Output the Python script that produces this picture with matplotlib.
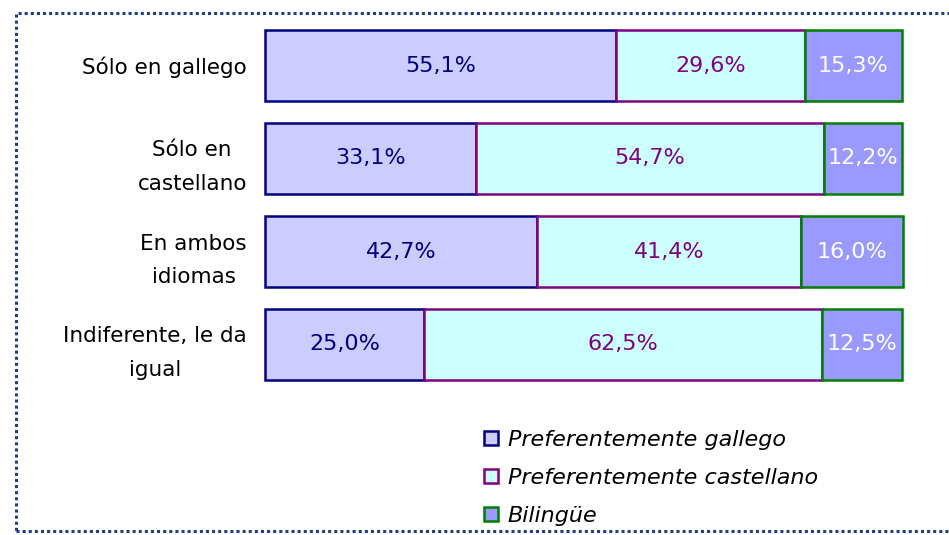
import numpy as np
import matplotlib.pyplot as plt
from matplotlib.patches import Rectangle

# datos
categorias = ['Sólo en gallego', 'Sólo en\ncastellano', 'En ambos\nidiomas', 'Indiferente, le da\nigual']
gallego = [55.1, 33.1, 42.7, 25.0]
castellano = [29.6, 54.7, 41.4, 62.5]
bilingue = [15.3, 12.2, 16.0, 12.5]
series_nombres = ['Preferentemente gallego', 'Preferentemente castellano', 'Bilingüe']

rellenos = ['#CCCCFF', '#CCFFFF', '#9999FF']
bordes = ['#000080', '#800080', '#008000']
colores_texto = ['#000080', '#800080', '#FFFFFF']

fig = plt.figure(figsize=(9.49, 5.35), dpi=100)
ax = fig.add_axes([265/949, 1 - 391/535, 637/949, 372/535])

y = np.arange(len(categorias))
izq = np.zeros(len(categorias))
for vals, fc, ec, tc, nombre in zip([gallego, castellano, bilingue], rellenos, bordes, colores_texto, series_nombres):
    vals = np.array(vals)
    barras = ax.barh(y, vals, left=izq, height=0.76, color=fc, edgecolor=ec, linewidth=1.8, label=nombre)
    for b in barras:
        b.set_clip_on(False)
    for yi, l, v in zip(y, izq, vals):
        ax.text(l + v / 2, yi, f'{v:.1f}'.replace('.', ',') + '%', ha='center', va='center',
                color=tc, fontsize=16)
    izq = izq + vals

ax.set_xlim(0, 100)
ax.set_ylim(len(categorias) - 0.5, -0.5)
ax.set_yticks(y)
ax.set_yticklabels(categorias, fontsize=15.5, linespacing=1.85)
for t in ax.get_yticklabels():
    t.set_multialignment('center')
ax.tick_params(axis='y', length=0, pad=13)
ax.set_xticks([])
for s in ax.spines.values():
    s.set_visible(False)

leg = fig.legend(loc='upper left', bbox_to_anchor=(464/949, 1 - 410/535), frameon=False,
                 prop={'style': 'italic', 'size': 16}, handlelength=0.62, handleheight=0.62,
                 handletextpad=0.45, labelspacing=0.8)

# marco punteado
fig.patches.append(Rectangle((16/949, 1 - 531/535), 960/949, 518/535, transform=fig.transFigure,
                             fill=False, edgecolor='#1F3F7F', linestyle=(0, (1, 1)), linewidth=2.2))

fig.savefig('out.png', dpi=100)
